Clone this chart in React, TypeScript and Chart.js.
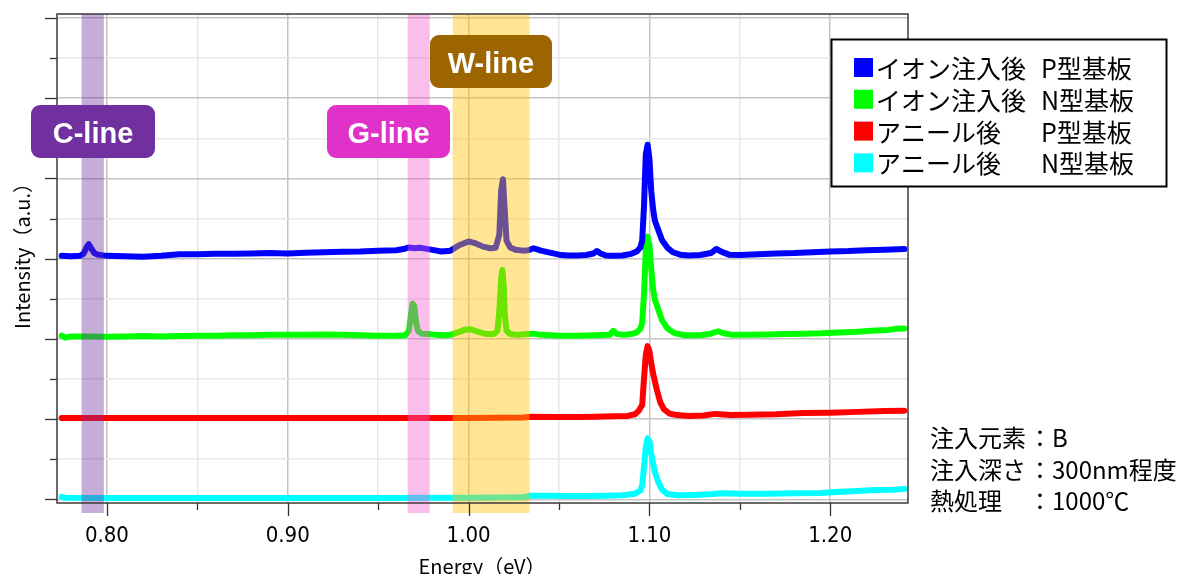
import { useEffect, useRef } from 'react';
import { Chart, registerables } from 'chart.js';

Chart.register(...registerables);

// ---------- data ----------
const blueE = [0.775, 0.780, 0.785, 0.787, 0.789, 0.790, 0.791, 0.793, 0.795, 0.800, 0.810, 0.820, 0.830, 0.840, 0.850, 0.860, 0.870, 0.880, 0.890, 0.900, 0.910, 0.920, 0.930, 0.940, 0.950, 0.960, 0.964, 0.967, 0.970, 0.973, 0.976, 0.980, 0.985, 0.990, 0.995, 1.000, 1.004, 1.008, 1.012, 1.015, 1.017, 1.018, 1.019, 1.020, 1.021, 1.023, 1.026, 1.030, 1.033, 1.036, 1.040, 1.045, 1.050, 1.055, 1.060, 1.065, 1.069, 1.071, 1.073, 1.076, 1.080, 1.085, 1.090, 1.093, 1.095, 1.096, 1.097, 1.098, 1.099, 1.100, 1.101, 1.102, 1.103, 1.105, 1.107, 1.110, 1.113, 1.117, 1.122, 1.128, 1.134, 1.137, 1.140, 1.144, 1.150, 1.160, 1.170, 1.180, 1.190, 1.200, 1.210, 1.220, 1.230, 1.241];
const blueI = [6.07, 6.06, 6.07, 6.12, 6.30, 6.36, 6.28, 6.14, 6.10, 6.07, 6.06, 6.05, 6.07, 6.11, 6.11, 6.12, 6.12, 6.13, 6.14, 6.13, 6.15, 6.16, 6.17, 6.18, 6.20, 6.21, 6.24, 6.28, 6.26, 6.27, 6.25, 6.22, 6.18, 6.20, 6.34, 6.43, 6.38, 6.30, 6.26, 6.27, 6.60, 7.70, 7.98, 7.20, 6.45, 6.28, 6.22, 6.20, 6.21, 6.26, 6.20, 6.15, 6.10, 6.08, 6.08, 6.09, 6.13, 6.19, 6.13, 6.08, 6.07, 6.08, 6.12, 6.18, 6.28, 6.45, 7.30, 8.60, 8.84, 8.50, 7.70, 7.25, 6.95, 6.70, 6.46, 6.27, 6.16, 6.10, 6.08, 6.09, 6.14, 6.24, 6.17, 6.10, 6.09, 6.11, 6.13, 6.14, 6.16, 6.18, 6.19, 6.21, 6.22, 6.24];

const greenE = [0.775, 0.777, 0.780, 0.790, 0.800, 0.810, 0.820, 0.830, 0.840, 0.850, 0.860, 0.870, 0.880, 0.890, 0.900, 0.910, 0.920, 0.930, 0.940, 0.950, 0.960, 0.965, 0.967, 0.968, 0.969, 0.970, 0.971, 0.972, 0.974, 0.978, 0.982, 0.986, 0.990, 0.994, 0.998, 1.001, 1.005, 1.010, 1.014, 1.016, 1.017, 1.018, 1.0187, 1.0195, 1.020, 1.021, 1.023, 1.027, 1.032, 1.036, 1.040, 1.050, 1.060, 1.070, 1.078, 1.080, 1.082, 1.086, 1.090, 1.093, 1.095, 1.096, 1.097, 1.098, 1.099, 1.100, 1.101, 1.102, 1.103, 1.105, 1.107, 1.110, 1.114, 1.120, 1.128, 1.134, 1.138, 1.141, 1.146, 1.155, 1.165, 1.175, 1.185, 1.195, 1.205, 1.215, 1.225, 1.232, 1.236, 1.241];
const greenI = [4.08, 4.03, 4.06, 4.06, 4.05, 4.06, 4.07, 4.06, 4.07, 4.08, 4.08, 4.09, 4.09, 4.10, 4.10, 4.10, 4.11, 4.10, 4.09, 4.08, 4.08, 4.09, 4.20, 4.55, 4.88, 4.82, 4.40, 4.20, 4.13, 4.12, 4.10, 4.09, 4.10, 4.16, 4.23, 4.24, 4.18, 4.12, 4.12, 4.20, 4.70, 5.50, 5.72, 5.30, 4.60, 4.20, 4.12, 4.10, 4.12, 4.13, 4.10, 4.08, 4.08, 4.09, 4.10, 4.20, 4.12, 4.10, 4.12, 4.16, 4.25, 4.40, 5.10, 6.20, 6.55, 6.35, 5.75, 5.25, 4.98, 4.72, 4.46, 4.26, 4.14, 4.09, 4.09, 4.13, 4.19, 4.14, 4.10, 4.10, 4.11, 4.12, 4.13, 4.14, 4.16, 4.18, 4.21, 4.22, 4.25, 4.26];

const redE = [0.775, 0.800, 0.850, 0.900, 0.950, 1.000, 1.030, 1.035, 1.050, 1.060, 1.070, 1.080, 1.088, 1.092, 1.094, 1.096, 1.097, 1.098, 1.099, 1.100, 1.101, 1.102, 1.104, 1.106, 1.108, 1.111, 1.115, 1.122, 1.130, 1.136, 1.139, 1.145, 1.155, 1.170, 1.185, 1.200, 1.215, 1.230, 1.241];
const redI = [2.03, 2.03, 2.03, 2.03, 2.03, 2.03, 2.04, 2.06, 2.05, 2.05, 2.06, 2.07, 2.08, 2.12, 2.20, 2.35, 3.00, 3.60, 3.82, 3.70, 3.40, 3.15, 2.75, 2.42, 2.25, 2.14, 2.10, 2.08, 2.09, 2.13, 2.12, 2.10, 2.11, 2.12, 2.15, 2.16, 2.18, 2.20, 2.21];

const cyanE = [0.775, 0.777, 0.800, 0.850, 0.900, 0.950, 1.000, 1.030, 1.034, 1.045, 1.055, 1.065, 1.075, 1.085, 1.092, 1.095, 1.096, 1.097, 1.098, 1.099, 1.100, 1.101, 1.102, 1.103, 1.105, 1.107, 1.110, 1.116, 1.125, 1.135, 1.140, 1.150, 1.165, 1.180, 1.195, 1.205, 1.215, 1.225, 1.235, 1.241];
const cyanI = [0.06, 0.04, 0.03, 0.03, 0.03, 0.03, 0.04, 0.05, 0.09, 0.09, 0.08, 0.08, 0.09, 0.10, 0.14, 0.22, 0.35, 0.80, 1.30, 1.52, 1.45, 1.15, 0.90, 0.68, 0.42, 0.24, 0.13, 0.10, 0.11, 0.13, 0.15, 0.14, 0.14, 0.15, 0.16, 0.19, 0.21, 0.23, 0.24, 0.26];

const seriesNames = ['イオン注入後', 'イオン注入後', 'アニール後', 'アニール後'];
const substrateNames = ['P型基板', 'N型基板', 'P型基板', 'N型基板'];
const seriesColors = ['#0000FF', '#00FF00', '#FF0000', '#00FFFF'];

const xTickValues = [0.8, 0.9, 1.0, 1.1, 1.2];
const xTickLabels = ['0.80', '0.90', '1.00', '1.10', '1.20'];

const bandNames = ['C-line', 'G-line', 'W-line'];
const bandStart = [0.786, 0.9663, 0.9912];
const bandEnd = [0.7983, 0.9785, 1.0337];

const noteKeys = ['注入元素', '注入深さ', '熱処理'];
const noteValues = ['：B', '：300nm程度', '：1000℃'];

const xTitle = 'Energy（eV）';
const yTitle = 'Intensity（a.u.）';

// ---------- styles ----------
const JP = '"Noto Sans CJK JP", "Noto Sans", sans-serif';
const NARROW = '"Liberation Sans Narrow", "DejaVu Sans Condensed", "Liberation Sans", sans-serif';
const bandFill = ['rgba(112,48,160,0.40)', 'rgba(242,92,205,0.40)', 'rgba(255,192,0,0.42)'];
const boxFill = ['#7030A0', '#E032C8', '#9C6500'];
const boxRect = [
  [31, 105, 124, 53],
  [327, 105, 123, 53],
  [430, 35, 122, 53],
];

const isMajorX = (v: number) => Math.abs(Math.round(v * 100) % 10) === 0;
const isMajorY = (v: number) => Math.abs(Math.round(v) % 2) === 0;

const overlay = {
  id: 'overlay',
  afterDatasetsDraw(chart: any) {
    const { ctx, chartArea: a, scales } = chart;
    const x = scales.x;
    const y = scales.y;
    ctx.save();
    // bands (drawn over the spectra)
    for (let i = 0; i < bandStart.length; i++) {
      const x0 = x.getPixelForValue(bandStart[i]);
      const x1 = x.getPixelForValue(bandEnd[i]);
      ctx.fillStyle = bandFill[i];
      ctx.fillRect(x0, a.top, x1 - x0, a.bottom + 10 - a.top);
    }
    // frame
    ctx.strokeStyle = '#3a3a3a';
    ctx.lineWidth = 1.5;
    ctx.strokeRect(a.left, a.top, a.right - a.left, a.bottom - a.top);
    // tick marks
    ctx.strokeStyle = '#333';
    ctx.lineWidth = 1.3;
    for (const t of x.ticks) {
      const px = Math.round(x.getPixelForValue(t.value)) + 0.5;
      ctx.beginPath();
      ctx.moveTo(px, a.bottom);
      ctx.lineTo(px, a.bottom + (isMajorX(t.value) ? 13 : 7));
      ctx.stroke();
    }
    for (const t of y.ticks) {
      const py = Math.round(y.getPixelForValue(t.value)) + 0.5;
      ctx.beginPath();
      ctx.moveTo(a.left, py);
      ctx.lineTo(a.left - (isMajorY(t.value) ? 12 : 7), py);
      ctx.stroke();
    }
    // band labels
    ctx.font = `bold 29px "Liberation Sans", ${JP}`;
    ctx.textAlign = 'center';
    ctx.textBaseline = 'middle';
    for (let i = 0; i < bandNames.length; i++) {
      const [bx, by, bw, bh] = boxRect[i];
      ctx.fillStyle = boxFill[i];
      ctx.beginPath();
      (ctx as any).roundRect(bx, by, bw, bh, 9);
      ctx.fill();
      ctx.fillStyle = '#fff';
      ctx.fillText(bandNames[i], bx + bw / 2, by + bh / 2 + 3);
    }
    // legend
    ctx.fillStyle = '#fff';
    ctx.fillRect(831, 39, 336, 147);
    ctx.strokeStyle = '#000';
    ctx.lineWidth = 2;
    ctx.strokeRect(831.5, 39.5, 335, 147);
    ctx.font = `25px ${JP}`;
    ctx.textAlign = 'left';
    ctx.textBaseline = 'middle';
    for (let i = 0; i < seriesNames.length; i++) {
      const cy = 67.5 + i * 31.8;
      ctx.fillStyle = seriesColors[i];
      ctx.fillRect(854, cy - 9.5, 19, 19);
      ctx.fillStyle = '#000';
      ctx.fillText(seriesNames[i], 876, cy + 1);
      ctx.fillText(substrateNames[i], 1041, cy + 1);
    }
    // notes
    ctx.font = `24px ${JP}`;
    for (let i = 0; i < noteKeys.length; i++) {
      const cy = 438 + i * 31.5;
      ctx.fillStyle = '#000';
      ctx.fillText(noteKeys[i], 930, cy);
      ctx.fillText(noteValues[i], 1028, cy);
    }
    // axis titles
    ctx.font = `20px ${JP}`;
    ctx.textAlign = 'center';
    ctx.fillText(xTitle, 482, 566);
    ctx.translate(22, 251);
    ctx.rotate(-Math.PI / 2);
    ctx.fillText(yTitle, 0, 0);
    ctx.restore();
  },
};

const makeSeries = (E: number[], I: number[]) => E.map((e, i) => ({ x: e, y: I[i] }));

export default function App() {
  const ref = useRef<HTMLCanvasElement>(null);
  useEffect(() => {
    if (!ref.current) return;
    const all = [makeSeries(blueE, blueI), makeSeries(greenE, greenI), makeSeries(redE, redI), makeSeries(cyanE, cyanI)];
    const chart = new Chart(ref.current, {
      type: 'line',
      data: {
        datasets: all.map((d, i) => ({
          label: seriesNames[i] + ' ' + substrateNames[i],
          data: d,
          borderColor: seriesColors[i],
          backgroundColor: seriesColors[i],
          borderWidth: 6,
          pointRadius: 0,
          tension: 0,
          borderJoinStyle: 'round' as const,
          borderCapStyle: 'round' as const,
          fill: false,
        })),
      },
      options: {
        responsive: false,
        animation: false,
        devicePixelRatio: 1,
        layout: { padding: { left: 0, top: 14, right: 277, bottom: 0 } },
        plugins: { legend: { display: false }, tooltip: { enabled: false } },
        scales: {
          x: {
            type: 'linear',
            min: 0.7724,
            max: 1.243,
            afterFit: (s: any) => { s.height = 71; },
            border: { display: false },
            grid: {
              drawTicks: false,
              lineWidth: 1.5,
              color: (c: any) => (c.tick && isMajorX(c.tick.value) ? '#c4c4c4' : '#e6e6e6'),
            },
            ticks: {
              stepSize: 0.05,
              includeBounds: false,
              autoSkip: false,
              maxRotation: 0,
              padding: 20,
              color: '#000',
              font: { family: NARROW, size: 22 },
              callback: (v: any) => {
                const idx = xTickValues.findIndex((t) => Math.abs(t - Number(v)) < 1e-6);
                return idx >= 0 ? xTickLabels[idx] : '';
              },
            },
          },
          y: {
            type: 'linear',
            min: -0.092,
            max: 12.1,
            afterFit: (s: any) => { s.width = 57; },
            border: { display: false },
            grid: {
              drawTicks: false,
              lineWidth: 1.5,
              color: (c: any) => (c.tick && isMajorY(c.tick.value) ? '#c4c4c4' : '#e8e8e8'),
            },
            ticks: { stepSize: 1, includeBounds: false, display: false },
          },
        },
      },
      plugins: [overlay],
    });
    return () => chart.destroy();
  }, []);
  return (
    <div style={{ position: 'fixed', left: 0, top: 0, width: 1185, height: 574, background: '#fff' }}>
      <canvas ref={ref} width={1185} height={574} style={{ width: 1185, height: 574, display: 'block' }} />
    </div>
  );
}
